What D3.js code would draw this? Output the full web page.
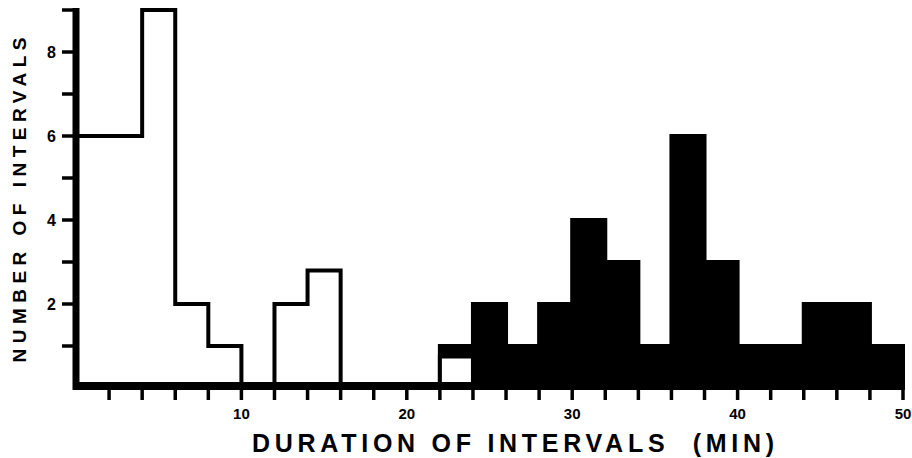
<!DOCTYPE html>
<html>
<head>
<meta charset="utf-8">
<script src="https://cdn.jsdelivr.net/npm/d3@7"></script>
<style>
  html, body { margin: 0; padding: 0; background: #fff; }
  svg { display: block; }
  text { font-family: "Liberation Sans", Arial, Helvetica, sans-serif; font-weight: bold; fill: #000; }
</style>
</head>
<body>
<svg id="chart" width="912" height="458"></svg>
<script>
// ---- data ----
const binWidth = 2;
const openBinStarts = [0, 2, 4, 6, 8, 10, 12, 14, 16, 18, 20, 22];
const openCounts    = [6, 6, 9, 2, 1, 0, 2, 2.8, 0, 0, 0, 0.75];
const filledBinStarts = [22, 24, 26, 28, 30, 32, 34, 36, 38, 40, 42, 44, 46, 48];
const filledCounts    = [1, 2, 1, 2, 4, 3, 1, 6, 3, 1, 1, 2, 2, 1];
const yTicks = [1, 2, 3, 4, 5, 6, 7, 8, 9];
const yTickLabels = [2, 4, 6, 8];
const xTicks = d3.range(2, 51, 2);
const xTickLabels = [10, 20, 30, 40, 50];
const xTitle = "DURATION OF INTERVALS  (MIN)";
const yTitle = "NUMBER OF INTERVALS";

// ---- layout ----
const svg = d3.select("#chart");
const x = d3.scaleLinear().domain([0, 50]).range([76, 903]);
const y = d3.scaleLinear().domain([0, 9]).range([388, 10]);

// filled bars
svg.append("g").selectAll("rect")
  .data(filledBinStarts.map((s, i) => ({ s, v: filledCounts[i] })))
  .join("rect")
  .attr("x", d => x(d.s))
  .attr("y", d => y(d.v))
  .attr("width", d => x(d.s + binWidth) - x(d.s))
  .attr("height", d => y(0) - y(d.v))
  .attr("fill", "#000")
  .attr("stroke", "#000")
  .attr("stroke-width", 4);

// open histogram as step outline
const pts = [[0, 0]];
openBinStarts.forEach((s, i) => {
  pts.push([s, openCounts[i]]);
  pts.push([s + binWidth, openCounts[i]]);
});
pts.push([openBinStarts[openBinStarts.length - 1] + binWidth, 0]);
const line = d3.line().x(d => x(d[0])).y(d => y(d[1]));
svg.append("path")
  .attr("d", line(pts) + "Z")
  .attr("fill", "#fff")
  .attr("stroke", "#000")
  .attr("stroke-width", 4)
  .attr("stroke-linejoin", "miter");

// baseline (thick)
svg.append("line")
  .attr("x1", x(0) - 3).attr("x2", x(50))
  .attr("y1", y(0) - 2).attr("y2", y(0) - 2)
  .attr("stroke", "#000").attr("stroke-width", 8);

// y axis (thick)
svg.append("line")
  .attr("x1", x(0)).attr("x2", x(0))
  .attr("y1", y(9) - 2).attr("y2", y(0) + 2)
  .attr("stroke", "#000").attr("stroke-width", 7);

// y ticks
svg.append("g").selectAll("line")
  .data(yTicks).join("line")
  .attr("x1", 62).attr("x2", x(0))
  .attr("y1", d => y(d)).attr("y2", d => y(d))
  .attr("stroke", "#000").attr("stroke-width", 3.5);

svg.append("g").selectAll("text")
  .data(yTickLabels).join("text")
  .attr("x", 56).attr("y", d => y(d))
  .attr("dy", "0.36em")
  .attr("text-anchor", "end")
  .attr("font-size", 16)
  .text(d => d);

// x ticks
svg.append("g").selectAll("line")
  .data(xTicks).join("line")
  .attr("x1", d => x(d)).attr("x2", d => x(d))
  .attr("y1", y(0) + 2).attr("y2", y(0) + 12)
  .attr("stroke", "#000").attr("stroke-width", 3.5);

svg.append("g").selectAll("text")
  .data(xTickLabels).join("text")
  .attr("x", d => x(d)).attr("y", 419)
  .attr("text-anchor", "middle")
  .attr("font-size", 15)
  .text(d => d);

// titles
svg.append("text")
  .attr("x", 513).attr("y", 452)
  .attr("text-anchor", "middle")
  .attr("font-size", 25)
  .attr("textLength", 522)
  .attr("lengthAdjust", "spacing")
  .style("white-space", "pre")
  .text(xTitle);

svg.append("text")
  .attr("transform", "translate(26,200) rotate(-90)")
  .attr("text-anchor", "middle")
  .attr("font-size", 19)
  .attr("textLength", 325)
  .attr("lengthAdjust", "spacing")
  .text(yTitle);
</script>
</body>
</html>
